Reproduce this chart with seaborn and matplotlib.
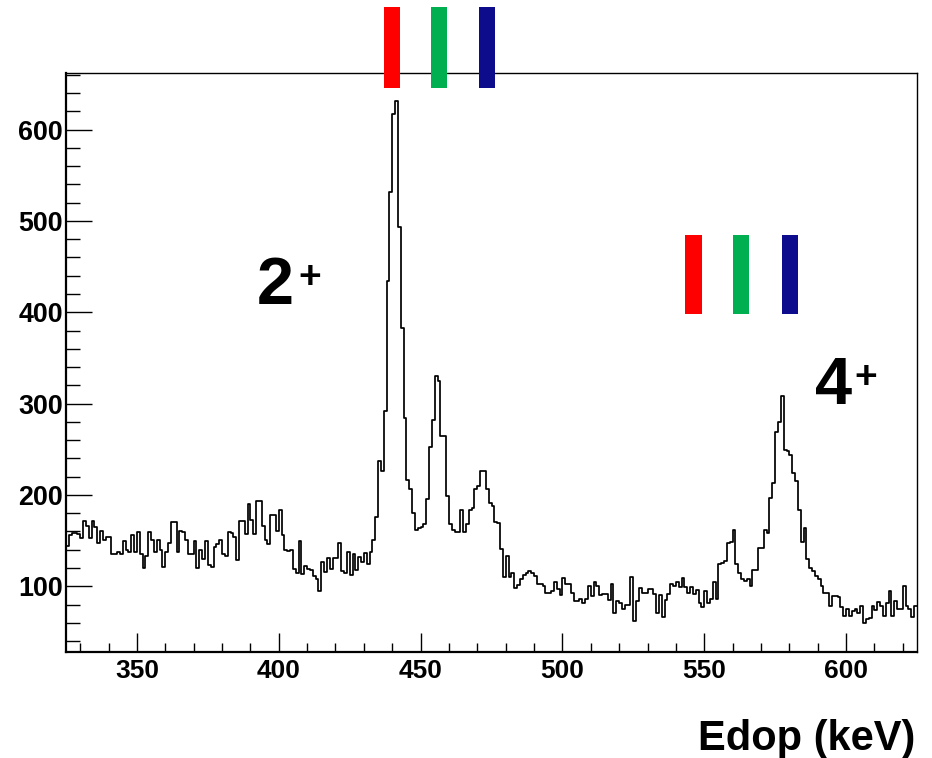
import numpy as np
import pandas as pd
import matplotlib
matplotlib.use("Agg")
import matplotlib.pyplot as plt
from matplotlib import font_manager
from matplotlib.ticker import MultipleLocator
import seaborn as sns

# Doppler-corrected energy spectrum, 1 keV bins starting at 325 keV
bin_start = 325
bin_width = 1
counts_325_401 = [144, 156, 158, 158, 157, 153, 171, 166, 153, 171,
                  165, 147, 160, 151, 154, 154, 135, 135, 138, 135,
                  149, 140, 138, 156, 137, 159, 135, 120, 133, 159,
                  151, 137, 151, 140, 121, 137, 147, 170, 170, 137,
                  161, 159, 151, 135, 135, 150, 120, 140, 130, 150,
                  123, 121, 143, 146, 151, 135, 133, 159, 158, 154,
                  129, 171, 171, 157, 190, 172, 157, 193, 193, 166,
                  151, 146, 178, 178, 161, 184, 156]
counts_402_432 = [140, 139, 140, 119, 115, 149, 113, 122, 119, 118,
                  111, 108, 95, 127, 116, 131, 119, 131, 131, 147,
                  117, 115, 137, 112, 135, 118, 132, 127, 136, 124, 137]
counts_433_491 = [151, 176, 237, 226, 292, 434, 532, 617, 631, 493,
                  383, 284, 216, 206, 180, 162, 164, 165, 168, 195,
                  252, 282, 330, 325, 264, 264, 199, 168, 162, 159,
                  159, 184, 159, 168, 184, 186, 206, 210, 226, 226,
                  206, 191, 188, 170, 169, 141, 110, 133, 110, 115,
                  98, 101, 108, 112, 115, 117, 115, 111, 102]
counts_492_553 = [103, 100, 93, 93, 95, 105, 97, 90, 109, 103,
                  103, 93, 84, 84, 86, 82, 86, 100, 89, 105,
                  100, 90, 91, 91, 85, 103, 71, 84, 82, 75,
                  79, 79, 110, 62, 84, 98, 93, 93, 97, 97,
                  91, 71, 90, 66, 85, 91, 103, 100, 105, 99,
                  109, 99, 93, 99, 91, 96, 82, 77, 95, 82,
                  86, 105]
counts_554_624 = [86, 124, 126, 128, 147, 148, 162, 124, 115, 108,
                  106, 108, 100, 118, 118, 142, 142, 162, 158, 197,
                  213, 269, 280, 308, 249, 248, 244, 224, 215, 184,
                  148, 164, 130, 120, 117, 111, 108, 100, 93, 93,
                  78, 89, 89, 88, 77, 67, 75, 67, 73, 75,
                  71, 78, 60, 64, 65, 78, 74, 83, 78, 67,
                  82, 95, 67, 84, 75, 75, 100, 78, 75, 66, 78]

counts = (counts_325_401 + counts_402_432 + counts_433_491
          + counts_492_553 + counts_554_624)
n_bins = len(counts)
centres = bin_start + bin_width * (np.arange(n_bins) + 0.5)

# expected positions of the three Doppler components for each transition
marker_colors = ["#ff0000", "#00b050", "#0c0c8c"]
marker_2plus_energy = [439.8, 456.5, 473.3]
marker_4plus_energy = [546.2, 563.1, 580.1]
marker_width = 5.7
marker_2plus_span = (646, 734)
marker_4plus_span = (398, 485)

x_range = (325, 625)
y_range = (28, 662)
x_major_ticks = [350, 400, 450, 500, 550, 600]
y_major_ticks = [100, 200, 300, 400, 500, 600]

sns.set_style("white")
plt.rcParams.update({
    "text.color": "black",
    "axes.labelcolor": "black",
    "xtick.color": "black",
    "ytick.color": "black",
    "axes.edgecolor": "black",
})


def has_font(name):
    try:
        font_manager.findfont(font_manager.FontProperties(family=name),
                              fallback_to_default=False)
        return True
    except ValueError:
        return False


regular = "Liberation Sans" if has_font("Liberation Sans") else "DejaVu Sans"
narrow_ok = has_font("Liberation Sans Narrow")
narrow = "Liberation Sans Narrow" if narrow_ok else regular
plt.rcParams["font.family"] = [regular, "DejaVu Sans"]

fig = plt.figure(figsize=(9.32, 7.58), dpi=100)
ax = fig.add_axes([66 / 932, 1 - 652 / 758, 851 / 932, 579 / 758])

df = pd.DataFrame({"Edop": centres, "counts": counts})
sns.histplot(data=df, x="Edop", weights="counts", binwidth=bin_width,
             binrange=(bin_start, bin_start + n_bins * bin_width),
             element="step", fill=False, color="black", linewidth=1.25,
             ax=ax)

for energies, (lo, hi) in [(marker_2plus_energy, marker_2plus_span),
                           (marker_4plus_energy, marker_4plus_span)]:
    bars = ax.bar(energies, hi - lo, bottom=lo, width=marker_width,
                  color=marker_colors, linewidth=0, zorder=5)
    for b in bars:
        b.set_clip_on(False)

ax.set_xlim(*x_range)
ax.set_ylim(*y_range)

# ROOT-like frame: thicker axis lines on the left and bottom
for side in ["left", "bottom"]:
    ax.spines[side].set_linewidth(1.6)
    ax.spines[side].set_color("black")
for side in ["top", "right"]:
    ax.spines[side].set_linewidth(1.0)
    ax.spines[side].set_color("black")

x_size = 21.6 if narrow_ok else 19.0
y_font = font_manager.FontProperties(family=regular, weight="bold", size=19.4)
x_font = font_manager.FontProperties(family=narrow, weight="bold", size=x_size)

ax.set_xticks(x_major_ticks)
ax.set_xticklabels([str(t) for t in x_major_ticks], fontproperties=x_font,
                   color="black")
ax.set_yticks(y_major_ticks)
ax.set_yticklabels([str(t) for t in y_major_ticks], fontproperties=y_font,
                   color="black")
ax.xaxis.set_minor_locator(MultipleLocator(10))
ax.yaxis.set_minor_locator(MultipleLocator(20))

ax.tick_params(axis="x", which="both", direction="in", bottom=True,
               top=False, width=1.0, color="black", labelcolor="black", pad=5)
ax.tick_params(axis="x", which="major", length=13.7)
ax.tick_params(axis="x", which="minor", length=6.8)
ax.tick_params(axis="y", which="both", direction="in", left=True,
               right=False, width=1.0, color="black", labelcolor="black",
               pad=2)
ax.tick_params(axis="y", which="major", length=18.7)
ax.tick_params(axis="y", which="minor", length=10)

ax.set_ylabel("")
ax.set_xlabel("Edop (keV)", color="black",
              fontproperties=font_manager.FontProperties(
                  family=narrow, weight="bold", size=35 if narrow_ok else 30))
ax.xaxis.label.set_horizontalalignment("right")
ax.xaxis.label.set_verticalalignment("baseline")
ax.xaxis.set_label_coords(0.9976, -0.169)

# transition labels
big = dict(fontsize=48, fontweight="bold", color="black", va="baseline",
           ha="left", family=regular)
sup = dict(fontsize=28, fontweight="bold", color="black", va="baseline",
           ha="left", family=regular)
ax.text(392.1, 408.8, "2", **big)
ax.text(407.0, 426.3, "+", **sup)
ax.text(589.1, 299.3, "4", **big)
ax.text(602.9, 316.8, "+", **sup)

fig.savefig("out.png", dpi=100)
